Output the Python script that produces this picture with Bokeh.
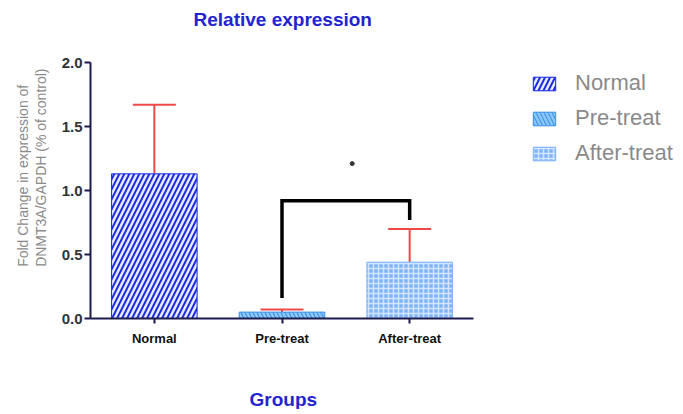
import math
from bokeh.plotting import figure
from bokeh.models import (ColumnDataSource, Legend, LegendItem, Title, Whisker,
                          TeeHead, Range1d, CustomJSTickFormatter,
                          LinearAxis, FixedTicker)
from bokeh.embed import file_html
from bokeh.resources import INLINE

# ---- data ----
groups = ["Normal", "Pre-treat", "After-treat"]
means = [1.13, 0.05, 0.44]
err_upper = [1.67, 0.07, 0.70]
fill_colors = ["#1c2ae6", "#3f92ea", "#7fb4fb"]
hatch_colors = ["#e8ecff", "#8cc8f8", "#d4e6ff"]
hatch_patterns = ["/", "\\", "+"]
hatch_scales = [10, 8, 5]
hatch_weights = [2.5, 2.5, 1.5]
bracket_groups = ["Pre-treat", "Pre-treat", "After-treat", "After-treat"]
bracket_y = [0.16, 0.92, 0.92, 0.77]
star_x = [1.55]
star_y = [1.21]
y_ticks = [0.0, 0.5, 1.0, 1.5, 2.0]

FONT = "Liberation Sans"

pos = list(range(len(groups)))                     # category slots 0,1,2
bracket_x = [groups.index(g) for g in bracket_groups]

FRAME_W = 590
SLOT_PX = 383 / 3                                  # width of one category slot
x_end = -0.5 + FRAME_W / SLOT_PX

p = figure(x_range=Range1d(-0.5, x_end), y_range=Range1d(0, 2.0),
           frame_width=FRAME_W, frame_height=256, output_backend="svg",
           toolbar_location=None,
           min_border_left=90, min_border_right=0, min_border_top=62,
           min_border_bottom=0)
p.outline_line_color = None
p.xgrid.visible = False
p.ygrid.visible = False

src = ColumnDataSource(dict(x=pos, groups=groups, means=means, fc=fill_colors,
                            hc=hatch_colors, hp=hatch_patterns,
                            hs=hatch_scales, hw=hatch_weights,
                            up=err_upper))
bars = p.vbar(x="x", top="means", width=0.67, source=src,
              fill_color="fc", line_color="fc", line_width=1,
              hatch_pattern="hp", hatch_color="hc", hatch_scale="hs",
              hatch_weight="hw")

wh = Whisker(base="x", lower="means", upper="up", source=src,
             dimension="height", line_color="#f04848", line_width=2,
             upper_head=TeeHead(size=43, line_color="#f04848", line_width=2),
             lower_head=None)
p.add_layout(wh)

p.line(x=bracket_x, y=bracket_y, line_color="black", line_width=3.5,
       line_join="miter")
p.scatter(x=star_x, y=star_y, size=4, color="#333333")

# axes
AX = "#1b1b4d"
p.xaxis.ticker = FixedTicker(ticks=pos)
p.xaxis.major_label_overrides = {i: g for i, g in zip(pos, groups)}
p.xaxis.bounds = (-0.5, len(groups) - 0.5)
p.yaxis.ticker = y_ticks
p.yaxis.formatter = CustomJSTickFormatter(code="return tick.toFixed(1);")
for ax in (p.xaxis[0], p.yaxis[0]):
    ax.axis_line_color = AX
    ax.axis_line_width = 2
    ax.major_tick_line_color = AX
    ax.major_tick_line_width = 2
    ax.major_tick_in = 0
    ax.minor_tick_line_color = None
    ax.major_label_text_font = FONT
    ax.major_label_text_font_style = "bold"
p.yaxis.major_tick_out = 6
p.yaxis.major_label_standoff = 2
p.yaxis.major_label_text_font_size = "15px"
p.yaxis.major_label_text_color = "#333333"
p.xaxis.major_tick_out = 5
p.xaxis.major_label_standoff = 7
p.xaxis.major_label_text_font_size = "13px"
p.xaxis.major_label_text_color = "#111111"

# blank x-axis label only reserves room; "Groups" is a title below it
p.xaxis.axis_label = "\u00a0"
p.xaxis.axis_label_text_font = FONT
p.xaxis.axis_label_text_font_size = "19px"
p.xaxis.axis_label_standoff = 14

# empty axis above that only reserves room under the chart title
top_ax = LinearAxis(ticker=FixedTicker(ticks=[]), axis_line_color=None,
                    major_tick_line_color=None, minor_tick_line_color=None,
                    major_label_text_font_size="0px",
                    axis_label="\u00a0", axis_label_text_font=FONT,
                    axis_label_text_font_size="19px",
                    axis_label_standoff=9)
p.add_layout(top_ax, "above")

# chart title, centred over the three bars (frame left + 103 px)
p.title = Title(text="Relative expression", align="left", offset=103,
                text_font=FONT, text_font_size="19px", text_font_style="bold",
                text_color="#2323d0", standoff=0)

# x axis title
p.add_layout(Title(text="Groups", align="left", offset=159, text_font=FONT,
                   text_font_size="19px", text_font_style="bold",
                   text_color="#2323d0", standoff=0), "below")

# y axis title (two lines)
p.add_layout(Title(text="Fold Change in expression of\nDNMT3A/GAPDH (% of control)",
                   align="right", offset=6, text_font=FONT,
                   text_font_size="14px", text_line_height=1.15,
                   text_font_style="normal", text_color="#8a8a8a",
                   standoff=18), "left")

legend = Legend(items=[LegendItem(label=g, renderers=[bars], index=i)
                       for i, g in enumerate(groups)],
                location=(440, 152), padding=0, margin=0, spacing=9,
                glyph_width=28, glyph_height=17, label_standoff=17,
                label_text_font=FONT, label_text_font_size="22px",
                label_text_color="#8a8a8a", border_line_color=None,
                background_fill_alpha=0)
p.add_layout(legend, "center")

open("out.html", "w").write(file_html(p, INLINE))
